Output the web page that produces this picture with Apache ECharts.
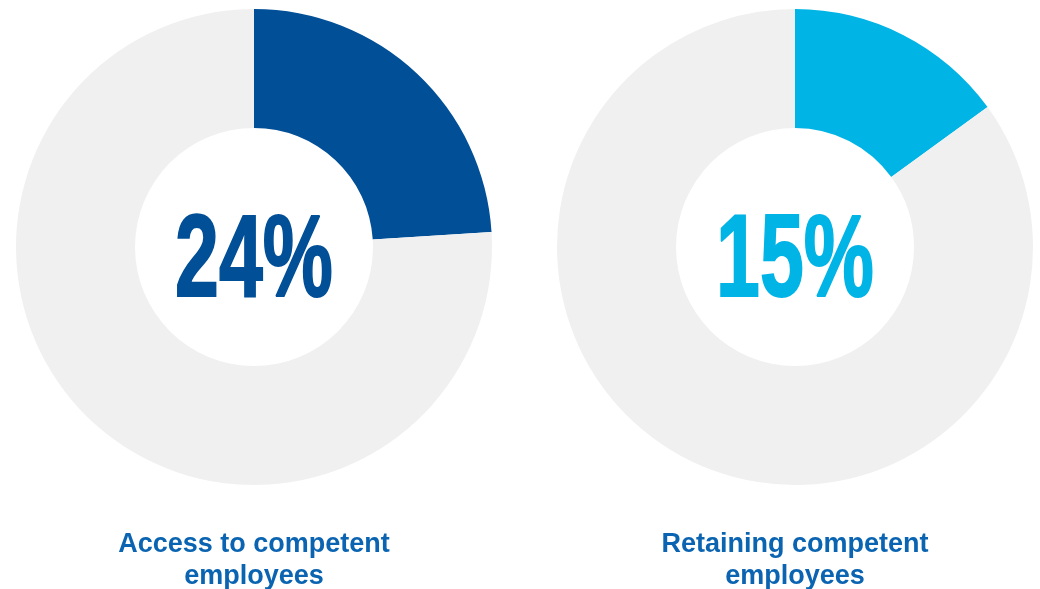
<!DOCTYPE html>
<html>
<head>
<meta charset="utf-8">
<script src="https://cdn.jsdelivr.net/npm/echarts@6/dist/echarts.min.js"></script>
<style>
  html, body { margin: 0; padding: 0; background: #ffffff; }
  #chart { width: 1040px; height: 589px; }
</style>
</head>
<body>
<div id="chart"></div>
<script>
// Share of respondents naming each workforce challenge
const categories = ['Access to competent employees', 'Retaining competent employees'];
const captions = [['Access to competent', 'employees'], ['Retaining competent', 'employees']];
const values = [24, 15];
const colors = ['#004f97', '#00b4e6'];
const restColor = '#f0f0f0';
const labelColor = '#0b64b1';

const centers = [[254, 247], [795, 247]];
const bigFont = "'Liberation Sans', Arial, sans-serif";
const capFont = "'Liberation Sans', Arial, sans-serif";

const series = values.map((v, i) => ({
  type: 'pie',
  name: categories[i],
  center: centers[i],
  radius: [119, 238],
  startAngle: 90,
  clockwise: true,
  silent: true,
  animation: false,
  label: { show: false },
  labelLine: { show: false },
  itemStyle: { borderWidth: 0 },
  data: [
    { name: categories[i], value: v, itemStyle: { color: colors[i] } },
    { name: 'Other', value: 100 - v, itemStyle: { color: restColor } }
  ]
}));

const graphics = [];
values.forEach((v, i) => {
  // big percentage in the hole, squeezed horizontally for a condensed look
  graphics.push({
    type: 'text',
    x: centers[i][0],
    y: 264,
    scaleX: 0.68,
    silent: true,
    style: {
      text: v + '%',
      font: 'bold 116px ' + bigFont,
      fill: colors[i],
      stroke: colors[i],
      lineWidth: 2,
      align: 'center',
      verticalAlign: 'middle'
    }
  });
  graphics.push({
    type: 'text',
    x: centers[i][0],
    y: 561,
    silent: true,
    style: {
      text: captions[i].join('\n'),
      font: 'bold 27px ' + capFont,
      lineHeight: 32,
      fill: labelColor,
      align: 'center',
      verticalAlign: 'middle'
    }
  });
});

const chart = echarts.init(document.getElementById('chart'), null, { renderer: 'canvas' });
chart.setOption({
  backgroundColor: '#ffffff',
  animation: false,
  series: series,
  graphic: { elements: graphics }
});
</script>
</body>
</html>
